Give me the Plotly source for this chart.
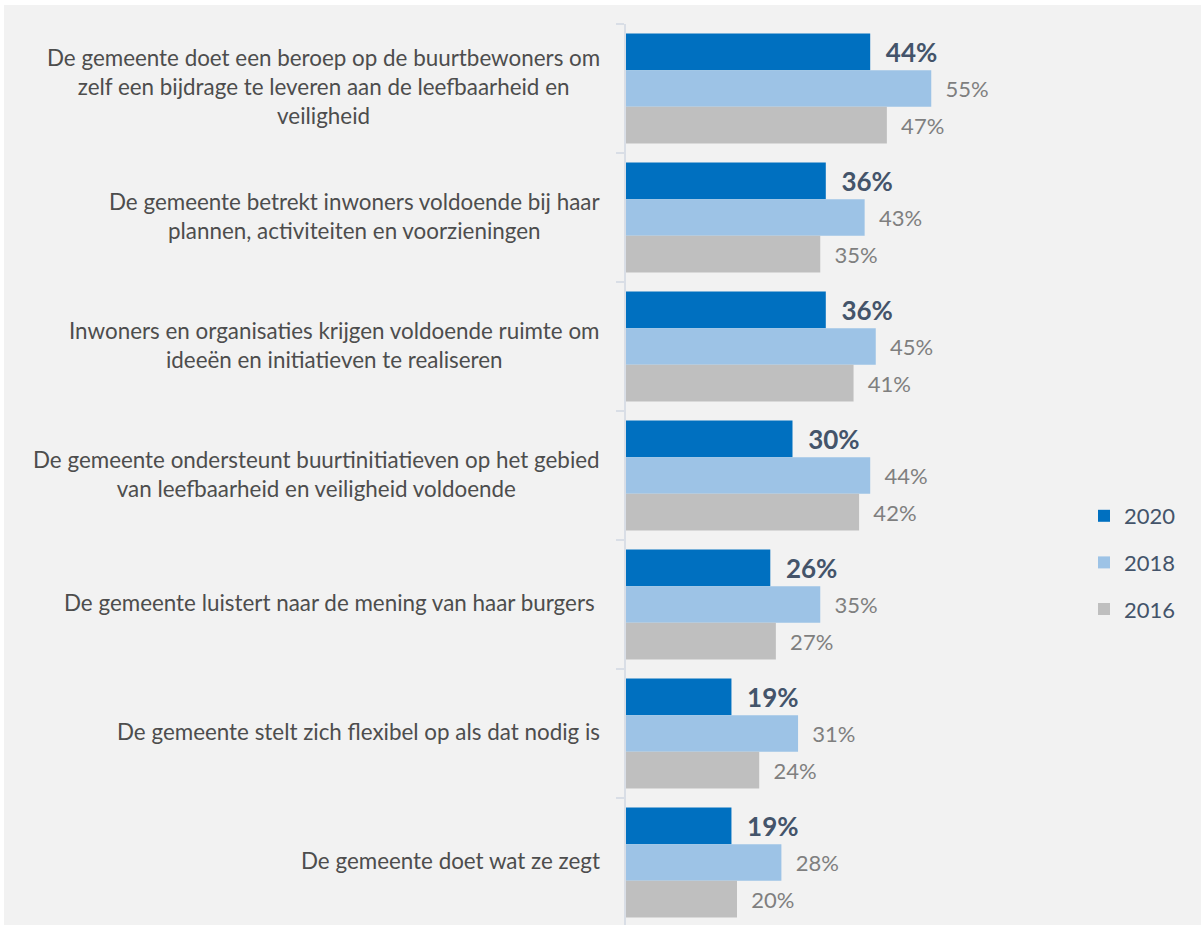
import plotly.graph_objects as go

# Survey statements (one row per statement, top to bottom)
statements = [
    "De gemeente doet een beroep op de buurtbewoners om<br>zelf een bijdrage te leveren aan de leefbaarheid en<br>veiligheid",
    "De gemeente betrekt inwoners voldoende bij haar<br>plannen, activiteiten en voorzieningen",
    "Inwoners en organisaties krijgen voldoende ruimte om<br>ideeën en initiatieven te realiseren",
    "De gemeente ondersteunt buurtinitiatieven op het gebied<br>van leefbaarheid en veiligheid voldoende",
    "De gemeente luistert naar de mening van haar burgers ",
    "De gemeente stelt zich flexibel op als dat nodig is",
    "De gemeente doet wat ze zegt",
]

years = ["2020", "2018", "2016"]
pct_2020 = [44, 36, 36, 30, 26, 19, 19]
pct_2018 = [55, 43, 45, 44, 35, 31, 28]
pct_2016 = [47, 35, 41, 42, 27, 24, 20]

series = [pct_2020, pct_2018, pct_2016]
bar_colors = ["#0070c0", "#9dc3e6", "#bfbfbf"]
label_fonts = [
    dict(family="Lato", size=26, color="#44546a", weight="bold"),
    dict(family="Lato", size=22, color="#7f7f7f"),
    dict(family="Lato", size=22, color="#7f7f7f"),
]

W, H = 1201, 925
LEFT, RIGHT, TOP, BOTTOM = 626, 131, 24, 0
PX_PER_PCT = 5.55
PX_PER_ROW = 129

plot_w = W - LEFT - RIGHT
plot_h = H - TOP - BOTTOM
rows = list(range(len(statements)))

fig = go.Figure()
for name, vals, col, lf in zip(years, series, bar_colors, label_fonts):
    fig.add_trace(go.Bar(
        name=name,
        y=rows,
        x=vals,
        orientation="h",
        marker=dict(color=col, line=dict(width=0)),
        text=[f"{v}%" for v in vals],
        texttemplate="  %{text}",
        textposition="outside",
        textfont=lf,
        constraintext="none",
        cliponaxis=False,
        legendgroup=name,
        hoverinfo="skip",
    ))

# statement labels, centred lines, right edge next to the axis
for r, s in zip(rows, statements):
    fig.add_annotation(
        x=0, xref="paper", xanchor="right", xshift=-24,
        y=r, yref="y", yanchor="middle", yshift=2,
        text=s, align="center", showarrow=False,
        font=dict(family="Lato", size=22.4, color="#4d4d4d"),
    )

# grey chart panel with a thin white edge top/left
fig.add_shape(
    type="rect", layer="below", xref="paper", yref="paper",
    x0=(4 - LEFT) / plot_w, x1=(W - LEFT) / plot_w,
    y0=-0.01, y1=(H - 5) / plot_h,
    fillcolor="#f2f2f2", line=dict(width=0),
)

fig.update_layout(
    width=W, height=H,
    margin=dict(l=LEFT, r=RIGHT, t=TOP, b=BOTTOM, pad=0),
    paper_bgcolor="white",
    plot_bgcolor="rgba(0,0,0,0)",
    barmode="group",
    bargap=19 / PX_PER_ROW,
    bargroupgap=0,
    showlegend=True,
    legend=dict(
        x=(1084 - LEFT) / plot_w, xanchor="left",
        y=(H - 495) / plot_h, yanchor="top",
        font=dict(family="Lato", size=22, color="#44546a"),
        tracegroupgap=15,
        bgcolor="rgba(0,0,0,0)",
        traceorder="grouped",
    ),
    xaxis=dict(
        range=[0, plot_w / PX_PER_PCT],
        showgrid=False, zeroline=False, showline=False,
        showticklabels=False, ticks="",
    ),
    yaxis=dict(
        range=[-0.5 + plot_h / PX_PER_ROW, -0.5],
        showgrid=False, zeroline=False,
        showline=True, linecolor="#d9dee6", linewidth=2,
        ticks="outside", ticklen=8, tickwidth=2, tickcolor="#d9dee6",
        tickvals=[r - 0.5 for r in rows],
        showticklabels=False,
    ),
)

fig.write_html("out.html")
